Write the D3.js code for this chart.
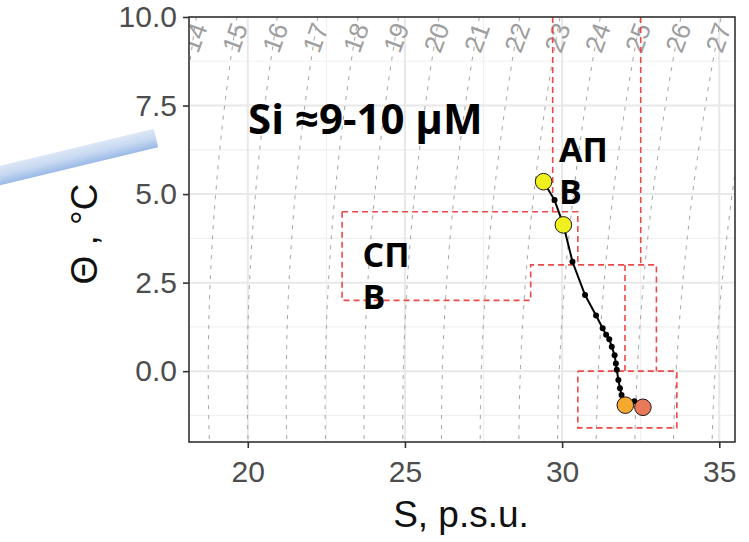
<!DOCTYPE html>
<html>
<head>
<meta charset="utf-8">
<script src="https://cdn.jsdelivr.net/npm/d3@7"></script>
<style>
  html, body { margin: 0; padding: 0; background: #fff; }
  svg { display: block; }
</style>
</head>
<body>
<svg id="chart" width="749" height="542"></svg>
<script>
// ---- data -------------------------------------------------------------
// Θ–S profile of the station (top to bottom)
const profileS = [29.41, 29.76, 30.04, 30.33, 30.73, 31.08, 31.29, 31.40, 31.50, 31.58,
                  31.67, 31.71, 31.74, 31.79, 31.84, 31.89, 32.01, 32.30, 32.57];
const profileT = [5.35, 4.83, 4.13, 3.09, 2.15, 1.57, 1.21, 1.03, 0.90, 0.69,
                  0.45, 0.22, 0.04, -0.25, -0.48, -0.67, -0.96, -0.85, -1.02];

// highlighted samples
const markerS = [29.41, 30.04, 32.01, 32.57];
const markerT = [5.35, 4.13, -0.96, -1.02];
const markerFill = ["#f0f01e", "#f0f01e", "#f5a82e", "#e8795a"];

// water-mass boundaries (S, Θ vertices)
const boundaryPaths = [
  [[29.7, 10], [29.7, 4.5]],
  [[32.5, 10], [32.5, 3]],
  [[23, 4.5], [30.5, 4.5], [30.5, 3]],
  [[23, 4.5], [23, 2], [29, 2], [29, 3], [33, 3], [33, 0]],
  [[32, 3], [32, 0]],
  [[30.5, 0], [33.65, 0], [33.65, -1.6], [30.5, -1.6], [30.5, 0]]
];

// isopycnal levels (σθ)
const sigmaLevels = d3.range(13, 30);

// axes
const xTicks = [20, 25, 30, 35];
const yTicks = [0, 2.5, 5, 7.5, 10];
const xMinor = [22.5, 27.5, 32.5];
const yMinor = [-1.25, 1.25, 3.75, 6.25, 8.75];

// text labels
const waterMassLabels = [
  { text: ["АП", "В"], s: 29.9, t: 5.9 },
  { text: ["СП", "В"], s: 23.65, t: 2.95 }
];

// ---- layout -----------------------------------------------------------
const svg = d3.select("#chart");
const plot = { left: 189, right: 735, top: 17, bottom: 442 };

const x = d3.scaleLinear().domain([18.13, 35.5]).range([plot.left, plot.right]);
const y = d3.scaleLinear().domain([-2, 10]).range([plot.bottom, plot.top]);

// seawater density at surface pressure (UNESCO 1981)
function sigma(S, T) {
  const rw = 999.842594 + 6.793952e-2 * T - 9.095290e-3 * T * T + 1.001685e-4 * T ** 3
           - 1.120083e-6 * T ** 4 + 6.536332e-9 * T ** 5;
  const A = 8.24493e-1 - 4.0899e-3 * T + 7.6438e-5 * T * T - 8.2467e-7 * T ** 3 + 5.3875e-9 * T ** 4;
  const B = -5.72466e-3 + 1.0227e-4 * T - 1.6546e-6 * T * T;
  const C = 4.8314e-4;
  return rw + A * S + B * Math.pow(S, 1.5) + C * S * S - 1000;
}
function salinityFor(sig, T) {
  let lo = 0, hi = 50;
  for (let i = 0; i < 60; i++) {
    const mid = (lo + hi) / 2;
    if (sigma(mid, T) < sig) lo = mid; else hi = mid;
  }
  return (lo + hi) / 2;
}

const defs = svg.append("defs");
defs.append("clipPath").attr("id", "plotClip")
  .append("rect")
  .attr("x", plot.left).attr("y", plot.top)
  .attr("width", plot.right - plot.left).attr("height", plot.bottom - plot.top);

// panel background + grid
svg.append("rect")
  .attr("x", plot.left).attr("y", plot.top)
  .attr("width", plot.right - plot.left).attr("height", plot.bottom - plot.top)
  .attr("fill", "#fff");

const grid = svg.append("g");
grid.selectAll(".vminor").data(xMinor).join("line")
  .attr("x1", d => x(d)).attr("x2", d => x(d))
  .attr("y1", plot.top).attr("y2", plot.bottom)
  .attr("stroke", "#f0f0f0").attr("stroke-width", 1.2);
grid.selectAll(".hminor").data(yMinor).join("line")
  .attr("y1", d => y(d)).attr("y2", d => y(d))
  .attr("x1", plot.left).attr("x2", plot.right)
  .attr("stroke", "#f0f0f0").attr("stroke-width", 1.2);
grid.selectAll(".vmajor").data(xTicks).join("line")
  .attr("x1", d => x(d)).attr("x2", d => x(d))
  .attr("y1", plot.top).attr("y2", plot.bottom)
  .attr("stroke", "#e8e8e8").attr("stroke-width", 2);
grid.selectAll(".hmajor").data(yTicks).join("line")
  .attr("y1", d => y(d)).attr("y2", d => y(d))
  .attr("x1", plot.left).attr("x2", plot.right)
  .attr("stroke", "#e8e8e8").attr("stroke-width", 2);

// isopycnals
const inner = svg.append("g").attr("clip-path", "url(#plotClip)");
const tSteps = d3.range(-2.2, 10.21, 0.1);
const isoLine = d3.line().x(d => x(d[0])).y(d => y(d[1]));
inner.selectAll(".iso").data(sigmaLevels).join("path")
  .attr("d", sg => isoLine(tSteps.map(t => [salinityFor(sg, t), t])))
  .attr("fill", "none")
  .attr("stroke", "#a3a3a3")
  .attr("stroke-width", 1)
  .attr("stroke-dasharray", "4,6");

const labelT = 9.42;
inner.selectAll(".isoLabel").data(sigmaLevels.filter(sg => {
    const px = x(salinityFor(sg, labelT));
    return px > plot.left - 5 && px < plot.right + 5;
  })).join("text")
  .attr("transform", sg => `translate(${x(salinityFor(sg, labelT)) + 1},${y(labelT)}) rotate(-70)`)
  .attr("text-anchor", "middle")
  .attr("dy", "0.35em")
  .attr("font-family", "Liberation Sans, Arial, sans-serif")
  .attr("font-size", 26)
  .attr("fill", "#9e9e9e")
  .text(d => d);

// water-mass boundaries
const boundLine = d3.line().x(d => x(d[0])).y(d => y(d[1]));
inner.selectAll(".bound").data(boundaryPaths).join("path")
  .attr("d", boundLine)
  .attr("fill", "none")
  .attr("stroke", "#ec4848")
  .attr("stroke-width", 1.6)
  .attr("stroke-dasharray", "6,4");

// profile
const profile = profileS.map((s, i) => [s, profileT[i]]);
inner.append("path")
  .attr("d", d3.line().x(d => x(d[0])).y(d => y(d[1]))(profile))
  .attr("fill", "none").attr("stroke", "#000").attr("stroke-width", 2);
inner.selectAll(".dot").data(profile).join("circle")
  .attr("cx", d => x(d[0])).attr("cy", d => y(d[1]))
  .attr("r", 3).attr("fill", "#000");
inner.selectAll(".marker").data(markerS.map((s, i) => [s, markerT[i], markerFill[i]])).join("circle")
  .attr("cx", d => x(d[0])).attr("cy", d => y(d[1]))
  .attr("r", 8.3).attr("fill", d => d[2])
  .attr("stroke", "#1a1a1a").attr("stroke-width", 1);

// panel border
svg.append("rect")
  .attr("x", plot.left).attr("y", plot.top)
  .attr("width", plot.right - plot.left).attr("height", plot.bottom - plot.top)
  .attr("fill", "none").attr("stroke", "#333").attr("stroke-width", 1.6);

// axes
const xAxis = svg.append("g").attr("transform", `translate(0,${plot.bottom})`)
  .call(d3.axisBottom(x).tickValues(xTicks).tickSize(6).tickPadding(5).tickFormat(d3.format("d")));
const yAxis = svg.append("g").attr("transform", `translate(${plot.left},0)`)
  .call(d3.axisLeft(y).tickValues(yTicks).tickSize(6).tickPadding(6).tickFormat(d3.format(".1f")));
[xAxis, yAxis].forEach(g => {
  g.select(".domain").remove();
  g.selectAll(".tick line").attr("stroke", "#333").attr("stroke-width", 1.6);
  g.selectAll(".tick text")
    .attr("font-family", "Liberation Sans, Arial, sans-serif")
    .attr("font-size", 30).attr("fill", "#4d4d4d");
});
xAxis.selectAll(".tick text").attr("dy", "0.95em");

// axis titles
svg.append("text")
  .attr("x", 461).attr("y", 527)
  .attr("text-anchor", "middle")
  .attr("font-family", "Liberation Sans, Arial, sans-serif")
  .attr("font-size", 37).attr("fill", "#111")
  .text("S, p.s.u.");
svg.append("text")
  .attr("transform", "translate(97,234) rotate(-90)")
  .attr("text-anchor", "middle")
  .attr("font-family", "Liberation Sans, Arial, sans-serif")
  .attr("font-size", 37).attr("fill", "#111")
  .text("Θ , °C");

// annotations
svg.append("text")
  .attr("x", 248).attr("y", 134)
  .attr("font-family", "Open Sans, sans-serif").attr("font-weight", 700)
  .attr("font-size", 42).attr("fill", "#000")
  .text("Si ≈9-10 μM");

waterMassLabels.forEach(lb => {
  const t = svg.append("text")
    .attr("font-family", "Open Sans, sans-serif").attr("font-weight", 700)
    .attr("font-size", 34).attr("fill", "#000");
  lb.text.forEach((line, i) => {
    t.append("tspan").attr("x", x(lb.s)).attr("y", y(lb.t) + i * 42).text(line);
  });
});

// highlight band
const grad = defs.append("linearGradient").attr("id", "bandGrad")
  .attr("x1", 0).attr("y1", 0).attr("x2", 0).attr("y2", 1);
grad.append("stop").attr("offset", 0).attr("stop-color", "#dde7f6");
grad.append("stop").attr("offset", 0.5).attr("stop-color", "#c6d8f1");
grad.append("stop").attr("offset", 1).attr("stop-color", "#9ab9e7");
svg.append("rect")
  .attr("transform", "translate(156,138) rotate(-13.5)")
  .attr("x", -200).attr("y", -9.5).attr("width", 200).attr("height", 19)
  .attr("fill", "url(#bandGrad)");
</script>
</body>
</html>
